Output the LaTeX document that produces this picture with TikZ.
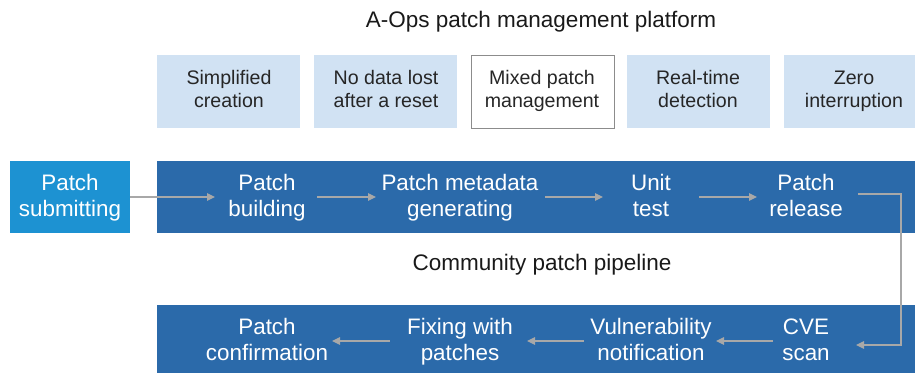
\documentclass[tikz,border=0pt]{standalone}
\usepackage{fontspec}
\setmainfont{Liberation Sans}
\usetikzlibrary{arrows.meta}
\definecolor{band}{HTML}{2B6AAA}
\definecolor{subm}{HTML}{1D92D2}
\definecolor{feat}{HTML}{D1E2F3}
\definecolor{conn}{HTML}{A8A8A8}
\begin{document}
\begin{tikzpicture}[x=1pt,y=-1pt,
  feature/.style={fill=feat,draw=none,minimum width=143pt,minimum height=73pt,inner sep=0pt},
  ftext/.style={align=center,inner sep=0pt,anchor=base,text=black!85,font=\fontsize{19.6}{23}\selectfont},
  stepbox/.style={align=center,inner sep=0pt,anchor=base,text=white,font=\fontsize{22.4}{26}\selectfont},
  flow/.style={draw=conn,line width=1.1pt,-{Triangle[length=8pt,width=7.5pt]}},
  title/.style={anchor=base,inner sep=0pt,font=\fontsize{22.5}{26}\selectfont,text=black!90}]
\useasboundingbox (0,0) rectangle (915,374);
\node[title] (t1) at (541,28) {A-Ops patch management platform};
\node[feature,anchor=north west] (f1) at (157,55) {};
\node[feature,anchor=north west] (f2) at (314,55) {};
\node[feature,anchor=north west,fill=white,draw=black!45,line width=0.8pt] (f3) at (471,55) {};
\node[feature,anchor=north west] (f4) at (627,55) {};
\node[feature,anchor=north west,minimum width=131pt] (f5) at (784,55) {};
\node[ftext] (ft1) at (229,108) {Simplified\\creation};
\node[ftext] (ft2) at (386,108) {No data lost\\after a reset};
\node[ftext] (ft3) at (542,108) {Mixed patch\\management};
\node[ftext] (ft4) at (698,108) {Real-time\\detection};
\node[ftext] (ft5) at (854,108) {Zero\\interruption};
% bands
\fill[band] (157,161) rectangle (915,233);
\fill[band] (157,305) rectangle (915,373);
\node[fill=subm,minimum width=120pt,minimum height=72pt,anchor=north west,inner sep=0pt] (sb) at (10,161) {};
\node[stepbox] (s0) at (70,216.5) {Patch\\submitting};
\node[stepbox] (s1) at (267,216.5) {Patch\\building};
\node[stepbox] (s2) at (460,216.5) {Patch metadata\\generating};
\node[stepbox] (s3) at (651,216.5) {Unit\\test};
\node[stepbox] (s4) at (806,216.5) {Patch\\release};
\node[title] (t2) at (542,270) {Community patch pipeline};
\node[stepbox] (b4) at (806,360.5) {CVE\\scan};
\node[stepbox] (b3) at (651,360.5) {Vulnerability\\notification};
\node[stepbox] (b2) at (460,360.5) {Fixing with\\patches};
\node[stepbox] (b1) at (267,360.5) {Patch\\confirmation};
\coordinate (c1) at (901,194);
\coordinate (c2) at (901,345);
\draw[flow] (sb.east |- 0,197) -- (215,197);
\draw[flow] (317,197) -- (376,197);
\draw[flow] (545,197) -- (603,197);
\draw[flow] (699,197) -- (757,197);
\draw[flow] (858,194) -- (c1) -- (c2) -- (856,345);
\draw[flow] (773,341) -- (716,341);
\draw[flow] (584,341) -- (527,341);
\draw[flow] (390,341) -- (332,341);
\end{tikzpicture}
\end{document}
